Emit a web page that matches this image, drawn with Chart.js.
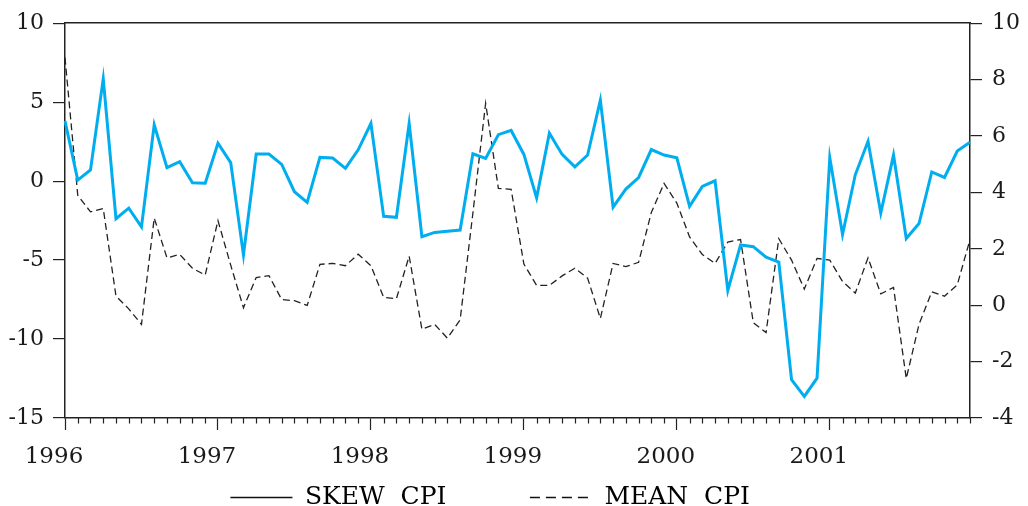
<!DOCTYPE html>
<html lang="en">
<head>
    <meta charset="UTF-8">
    <title>Skew CPI vs Mean CPI</title>
    <script src="https://cdn.jsdelivr.net/npm/chart.js"></script>
    <style>
        html, body { margin: 0; padding: 0; background: #fff; overflow: hidden; }
        #wrap { width: 1028px; height: 506px; }
    </style>
</head>
<body>
    <div id="wrap"><canvas id="cpiChart"></canvas></div>

    <script>
        const years = [1996, 1997, 1998, 1999, 2000, 2001];

        // monthly, Jan 1996 .. Dec 2001
        const skewCpi = [
            3.81, 0.06, 0.71, 6.48, -2.38, -1.71, -2.90, 3.56, 0.85, 1.23, -0.10, -0.13,
            2.40, 1.17, -4.67, 1.71, 1.71, 1.06, -0.67, -1.35, 1.50, 1.46, 0.81, 1.98,
            3.65, -2.23, -2.29, 3.65, -3.52, -3.25, -3.17, -3.10, 1.73, 1.44, 2.94, 3.21,
            1.69, -1.06, 3.04, 1.69, 0.90, 1.65, 5.13, -1.65, -0.50, 0.23, 2.00, 1.65,
            1.48, -1.60, -0.33, 0.02, -6.92, -4.04, -4.15, -4.81, -5.13, -12.58, -13.63, -12.48,
            1.48, -3.38, 0.40, 2.52, -2.02, 1.65, -3.63, -2.69, 0.58, 0.23, 1.90, 2.46
        ];

        const meanCpi = [
            8.78, 3.90, 3.31, 3.43, 0.32, -0.13, -0.68, 3.09, 1.68, 1.80, 1.31, 1.07,
            3.00, 1.42, -0.09, 0.98, 1.05, 0.20, 0.16, -0.01, 1.45, 1.48, 1.40, 1.81,
            1.40, 0.28, 0.23, 1.74, -0.85, -0.68, -1.17, -0.52, 3.27, 7.16, 4.14, 4.11,
            1.46, 0.70, 0.70, 1.04, 1.31, 0.96, -0.47, 1.48, 1.37, 1.52, 3.29, 4.32,
            3.62, 2.42, 1.80, 1.48, 2.24, 2.33, -0.62, -0.97, 2.36, 1.60, 0.57, 1.66,
            1.60, 0.84, 0.43, 1.68, 0.40, 0.63, -2.60, -0.68, 0.47, 0.32, 0.72, 2.33
        ];

        const seriesNames = ['SKEW  CPI', 'MEAN  CPI'];

        const months = [];
        years.forEach(y => {
            for (let m = 1; m <= 12; m++) months.push(y + '-' + String(m).padStart(2, '0'));
        });

        const axisColor = '#222';
        Chart.defaults.font.family = "'DejaVu Serif', 'Liberation Serif', serif";
        Chart.defaults.font.size = 22;
        Chart.defaults.color = '#1a1a1a';

        // trailing spaces only widen the legend entries so they sit apart like the original
        const legendPad = [' '.repeat(9), ' '.repeat(6)];

        // short month ticks under the x axis
        const monthTicks = {
            id: 'monthTicks',
            afterDraw(chart) {
                const xs = chart.scales.x;
                const c = chart.ctx;
                c.save();
                c.strokeStyle = axisColor;
                c.lineWidth = 1.2;
                c.beginPath();
                months.forEach((m, i) => {
                    if (i % 12 === 0) return;
                    const px = Math.round(xs.getPixelForValue(i)) + 0.5;
                    c.moveTo(px, xs.top);
                    c.lineTo(px, xs.top + 5.5);
                });
                c.stroke();
                c.restore();
            }
        };

        const ctx = document.getElementById('cpiChart').getContext('2d');
        new Chart(ctx, {
            type: 'line',
            data: {
                labels: months,
                datasets: [
                    {
                        label: seriesNames[0],
                        data: skewCpi,
                        yAxisID: 'y',
                        borderColor: '#00aeef',
                        borderWidth: 3,
                        pointRadius: 0,
                        tension: 0
                    },
                    {
                        label: seriesNames[1],
                        data: meanCpi,
                        yAxisID: 'y1',
                        borderColor: '#222',
                        borderWidth: 1.3,
                        borderDash: [7, 4],
                        pointRadius: 0,
                        tension: 0
                    }
                ]
            },
            plugins: [monthTicks],
            options: {
                responsive: true,
                maintainAspectRatio: false,
                animation: false,
                layout: { padding: { top: 17, left: 0, right: 0, bottom: -14 } },
                plugins: {
                    tooltip: { enabled: false },
                    legend: {
                        position: 'bottom',
                        labels: {
                            usePointStyle: true,
                            pointStyle: 'line',
                            pointStyleWidth: 62,
                            padding: 12,
                            font: { size: 25, lineHeight: 1 },
                            generateLabels: chart => chart.data.datasets.map((ds, i) => ({
                                text: ds.label + legendPad[i],
                                strokeStyle: '#111',
                                fillStyle: '#111',
                                lineWidth: 1.4,
                                lineDash: i === 1 ? [10, 6] : [],
                                pointStyle: 'line',
                                datasetIndex: i
                            }))
                        }
                    }
                },
                scales: {
                    x: {
                        type: 'category',
                        position: 'bottom',
                        ticks: {
                            autoSkip: false,
                            maxRotation: 0,
                            padding: 13,
                            labelOffset: -11,
                            font: { size: 23 },
                            callback: (v, i) => i % 12 === 0 ? months[i].slice(0, 4) : ''
                        },
                        grid: {
                            drawOnChartArea: false,
                            tickLength: 12,
                            tickWidth: 1.2,
                            tickColor: c => (c.index % 12 === 0 ? axisColor : 'rgba(0,0,0,0)')
                        },
                        border: { display: true, color: axisColor, width: 1.5 },
                        afterFit: s => { s.height = 55; }
                    },
                    xt: {
                        type: 'category',
                        position: 'top',
                        ticks: { display: false },
                        grid: { drawOnChartArea: false, drawTicks: false },
                        border: { display: true, color: axisColor, width: 1.5 },
                        afterFit: s => { s.height = 0; }
                    },
                    y: {
                        position: 'left',
                        min: -15,
                        max: 10,
                        ticks: { stepSize: 5, padding: 9 },
                        grid: { drawOnChartArea: false, tickLength: 12, color: axisColor, lineWidth: 1.2 },
                        border: { display: true, color: axisColor, width: 1.5 },
                        afterFit: s => { s.width = 65; }
                    },
                    y1: {
                        position: 'right',
                        min: -4,
                        max: 10,
                        ticks: { stepSize: 2, padding: 10 },
                        grid: { drawOnChartArea: false, tickLength: 12, color: axisColor, lineWidth: 1.2 },
                        border: { display: true, color: axisColor, width: 1.5 },
                        afterFit: s => { s.width = 58; }
                    }
                }
            }
        });
    </script>
</body>
</html>
